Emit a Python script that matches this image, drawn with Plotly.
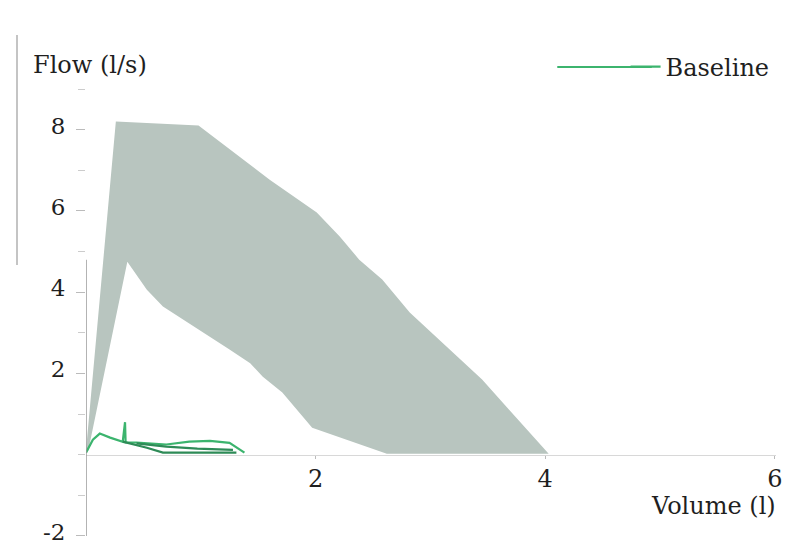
import plotly.graph_objects as go

# Predicted normal band: upper and lower limits (volume l, flow l/s)
upper_vol = [0.0, 0.26, 0.98, 1.6, 2.01, 2.21, 2.38, 2.58, 2.82, 3.05, 3.45, 4.03]
upper_flow = [0.1, 8.2, 8.1, 6.77, 5.96, 5.37, 4.8, 4.31, 3.5, 2.9, 1.85, 0.02]
lower_vol = [0.02, 0.36, 0.53, 0.67, 0.88, 1.25, 1.43, 1.54, 1.71, 1.97, 2.62, 4.03]
lower_flow = [0.1, 4.75, 4.06, 3.65, 3.28, 2.59, 2.25, 1.92, 1.53, 0.66, 0.02, 0.02]

# Baseline loops (green)
base1_vol = [0.0, 0.06, 0.12, 0.21, 0.32, 0.335, 0.34, 0.345, 0.44, 0.70, 0.90, 1.08, 1.25, 1.38]
base1_flow = [0.05, 0.37, 0.52, 0.42, 0.32, 0.8, 0.8, 0.3, 0.3, 0.25, 0.32, 0.34, 0.29, 0.05]
base2_vol = [0.32, 0.53, 0.67, 0.9, 1.1, 1.31]
base2_flow = [0.32, 0.17, 0.05, 0.05, 0.05, 0.05]
base3_vol = [0.44, 0.70, 0.97, 1.15, 1.28]
base3_flow = [0.28, 0.2, 0.15, 0.13, 0.12]

y_ticks = [-2, 2, 4, 6, 8]
x_ticks = [2, 4, 6]

FONT = "DejaVu Serif"
FS = 24
TXT = "#1f1f1f"
KEY = "#3cb46e"

fig = go.Figure()

band_x = upper_vol + lower_vol[::-1]
band_y = upper_flow + lower_flow[::-1]
fig.add_trace(go.Scatter(x=band_x, y=band_y, fill="toself", mode="lines",
                         line=dict(width=0), fillcolor="rgb(184,197,191)",
                         showlegend=False, hoverinfo="skip"))

fig.add_trace(go.Scatter(x=base1_vol, y=base1_flow, mode="lines", name="Baseline",
                         line=dict(color=KEY, width=2.2), legendgroup="b"))
fig.add_trace(go.Scatter(x=base2_vol, y=base2_flow, mode="lines", name="Baseline",
                         line=dict(color="#2e8b57", width=2.2), legendgroup="b", showlegend=False))
fig.add_trace(go.Scatter(x=base3_vol, y=base3_flow, mode="lines", name="Baseline",
                         line=dict(color="#2e8b57", width=2.2), legendgroup="b", showlegend=False))

y_lo, y_hi = -2.1, 9.05
zero_pos = (0 - y_lo) / (y_hi - y_lo)

fig.update_layout(
    width=787, height=548,
    margin=dict(l=86, r=11, t=87, b=8, autoexpand=False),
    paper_bgcolor="white", plot_bgcolor="white",
    font=dict(family=FONT, size=FS, color=TXT),
    xaxis=dict(range=[0, 6.01], tickvals=x_ticks, ticktext=[str(v) for v in x_ticks],
               showgrid=False, zeroline=False, showline=True, linecolor="#d8d8d8", linewidth=1,
               ticks="outside", ticklen=3, tickcolor="#bbbbbb", anchor="free", position=zero_pos,
               ticklabelstandoff=0, ticklabeloverflow="allow", automargin=False),
    yaxis=dict(range=[y_lo, y_hi], tickvals=y_ticks, ticktext=[str(v) for v in y_ticks],
               showgrid=False, zeroline=False, showline=False,
               ticks="outside", ticklen=9, tickcolor="#bbbbbb", ticklabelstandoff=6,
               ticklabelshift=-4, tickfont=dict(size=23),
               ticklabeloverflow="allow", automargin=False,
               minor=dict(ticks="outside", dtick=1, tick0=0, ticklen=7, tickcolor="#cccccc")),
    legend=dict(x=0.782, xanchor="left", y=1.044, yanchor="middle", bgcolor="rgba(0,0,0,0)",
                font=dict(family=FONT, size=FS, color=TXT)),
    showlegend=True,
)

# partial y-axis line as seen in the scan
fig.add_shape(type="line", xref="x", yref="y", x0=0, x1=0, y0=-2.0, y1=4.8,
              line=dict(color="#9a9a9a", width=1.5))
# scan edge line on the left
fig.add_shape(type="line", xref="paper", yref="paper", x0=-0.1, x1=-0.1, y0=0.607, y1=1.115,
              line=dict(color="#b0b0b0", width=1.5))
# longer legend key line (the original key is drawn longer than Plotly's)
fig.add_shape(type="line", xref="paper", yref="paper", x0=0.683, x1=0.82, y0=1.044, y1=1.044,
              line=dict(color=KEY, width=2))

fig.add_annotation(text="Flow (l/s)", xref="paper", yref="paper", x=-0.08, y=1.0486,
                   xanchor="left", yanchor="middle", showarrow=False,
                   font=dict(family=FONT, size=FS, color=TXT))
fig.add_annotation(text="Volume (l)", xref="paper", yref="paper", x=1.003, y=0.074,
                   xanchor="right", yanchor="middle", showarrow=False,
                   font=dict(family=FONT, size=FS, color=TXT))

fig.write_html("out.html", config={"displayModeBar": False},
               post_script="document.body.style.margin='0';document.body.style.overflow='hidden';")
